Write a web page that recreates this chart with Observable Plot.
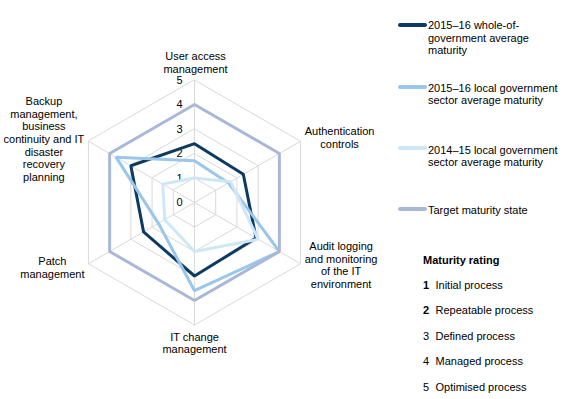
<!DOCTYPE html>
<html><head><meta charset="utf-8">
<script src="https://cdn.jsdelivr.net/npm/d3@7"></script>
<script src="https://cdn.jsdelivr.net/npm/@observablehq/plot@0.6"></script>
<style>
body{margin:0;background:#fff;}
#wrap{position:relative;width:569px;height:399px;font-family:"Liberation Sans",Arial,sans-serif;font-size:11px;color:#000;overflow:hidden;}
#chart{position:absolute;left:0;top:0;}
.lg{position:absolute;line-height:12.8px;white-space:nowrap;}
.sw{position:absolute;left:398px;width:29px;height:4px;border-radius:2px;}
</style></head><body>
<div id="wrap"><div id="chart"></div></div>
<script>
// ---- data ----
const categories = [
  "User access\nmanagement",
  "Authentication\ncontrols",
  "Audit logging\nand monitoring\nof the IT\nenvironment",
  "IT change\nmanagement",
  "Patch\nmanagement",
  "Backup\nmanagement,\nbusiness\ncontinuity and IT\ndisaster\nrecovery\nplanning"
];
const seriesNames = [
  "2015–16 whole-of-government average maturity",
  "2015–16 local government sector average maturity",
  "2014–15 local government sector average maturity",
  "Target maturity state"
];
const legendLines = [
  "2015–16 whole-of-\ngovernment average\nmaturity",
  "2015–16 local government\nsector average maturity",
  "2014–15 local government\nsector average maturity",
  "Target maturity state"
];
const wog2016 = [2.4, 2.3, 2.9, 3.0, 2.4, 3.0];
const local2016 = [1.7, 1.6, 4.0, 3.6, 1.7, 3.7];
const local2015 = [1.0, 1.7, 3.0, 2.0, 1.4, 1.5];
const target = [4, 4, 4, 4, 4, 4];
const tickValues = [0, 1, 2, 3, 4, 5];
const ratingNumbers = [1, 2, 3, 4, 5];
const ratingLabels = ["Initial process", "Repeatable process", "Defined process", "Managed process", "Optimised process"];

// ---- styles / layout ----
const colors = ["#0c3a62", "#9ac6e9", "#cde7f9", "#a9b8d8"];
const unit = 24.5, cx = 194, cy = 202, W = 569, H = 399;
const labelOffsets = [[1, -17.7], [39, -4], [40.5, 1.3], [0, 17.8], [-36, 3.5], [-44.5, -2.3]];
const n = categories.length;
const ang = i => i * 2 * Math.PI / n;
const px = (i, r) => r * Math.sin(ang(i));
const py = (i, r) => r * Math.cos(ang(i));
const maxLevel = d3.max(tickValues);

const allSeries = [wog2016, local2016, local2015, target];
const points = [];
allSeries.forEach((vals, s) => vals.forEach((v, i) => points.push({series: seriesNames[s], i, v})));
const grid = [];
tickValues.filter(t => t > 0).forEach(t => categories.forEach((c, i) => grid.push({t, i})));
const spokes = categories.map((c, i) => ({i}));

const marks = [
  Plot.line(grid, {x: d => px(d.i, d.t), y: d => py(d.i, d.t), z: "t", curve: "linear-closed", stroke: "#d9d9d9", strokeWidth: 1}),
  Plot.link(spokes, {x1: 0, y1: 0, x2: d => px(d.i, maxLevel), y2: d => py(d.i, maxLevel), stroke: "#d9d9d9", strokeWidth: 1}),
  Plot.text(tickValues, {x: 0, y: d => d, text: d => String(d), textAnchor: "end", dx: -12, fontSize: 11, fill: "#000"}),
  Plot.line(points, {x: d => px(d.i, d.v), y: d => py(d.i, d.v), z: "series", stroke: "series", curve: "linear-closed", strokeWidth: 3, strokeLinejoin: "miter"}),
  ...categories.map((c, i) => Plot.text([c], {
    x: px(i, maxLevel), y: py(i, maxLevel), text: d => d,
    dx: labelOffsets[i][0], dy: labelOffsets[i][1],
    textAnchor: "middle", lineAnchor: "middle", lineHeight: 1.15, fontSize: 11, fill: "#000"
  }))
];

const chart = Plot.plot({
  width: W, height: H,
  marginTop: 0, marginRight: 0, marginBottom: 0, marginLeft: 0,
  x: {domain: [-cx / unit, (W - cx) / unit], axis: null},
  y: {domain: [(cy - H) / unit, cy / unit], axis: null},
  color: {domain: seriesNames, range: colors},
  style: {fontFamily: '"Liberation Sans", Arial, sans-serif', fontSize: "11px", background: "transparent"},
  marks
});
document.getElementById("chart").appendChild(chart);

// ---- legend (HTML) ----
const wrap = document.getElementById("wrap");
const swatchY = [25, 87, 148, 209];
const textTop = [18.8, 81.5, 143.5, 203.8];
legendLines.forEach((t, k) => {
  const sw = document.createElement("div");
  sw.className = "sw";
  sw.style.top = (swatchY[k] - 2) + "px";
  sw.style.background = colors[k];
  wrap.appendChild(sw);
  const d = document.createElement("div");
  d.className = "lg";
  d.style.left = "428px";
  d.style.top = textTop[k] + "px";
  d.innerHTML = t.split("\n").join("<br>");
  wrap.appendChild(d);
});
const head = document.createElement("div");
head.className = "lg";
head.style.left = "423px";
head.style.top = "253.5px";
head.style.fontWeight = "bold";
head.textContent = "Maturity rating";
wrap.appendChild(head);
const ratingTops = [278.6, 304.3, 329.8, 355.2, 380.6];
ratingNumbers.forEach((num, k) => {
  const a = document.createElement("div");
  a.className = "lg";
  a.style.left = "423px";
  a.style.top = ratingTops[k] + "px";
  if (num <= 2) a.style.fontWeight = "bold";
  a.textContent = String(num);
  wrap.appendChild(a);
  const b = document.createElement("div");
  b.className = "lg";
  b.style.left = "435.5px";
  b.style.top = ratingTops[k] + "px";
  b.textContent = ratingLabels[k];
  wrap.appendChild(b);
});
</script>
</body></html>
